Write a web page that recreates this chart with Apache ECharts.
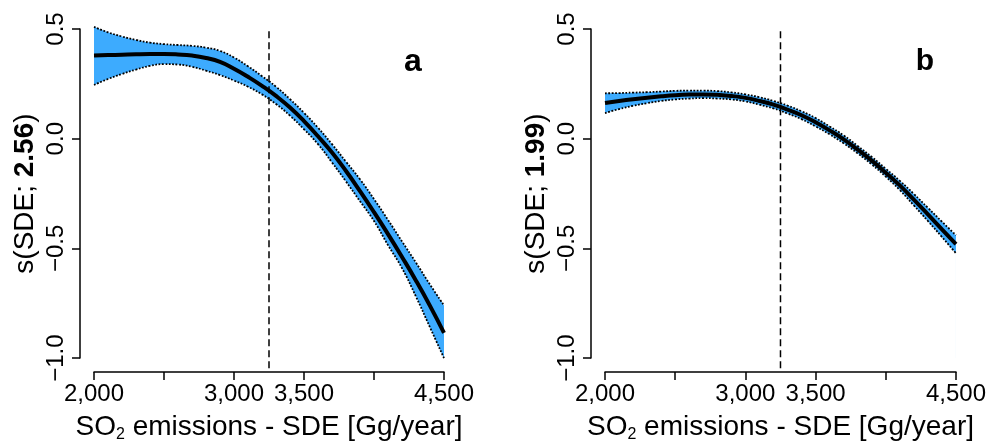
<!DOCTYPE html>
<html>
<head>
<meta charset="utf-8">
<script src="https://cdn.jsdelivr.net/npm/echarts@6/dist/echarts.min.js"></script>
<style>
  html, body { margin: 0; padding: 0; background: #ffffff; }
  #chart { width: 989px; height: 448px; }
</style>
</head>
<body>
<div id="chart"></div>
<script>
// SO2 emissions (Gg/year) at which the smooth terms are evaluated
const emissions = [2000, 2100, 2200, 2300, 2400, 2500, 2600, 2700, 2800, 2900,
                   3000, 3100, 3200, 3300, 3400, 3500, 3600, 3700, 3800, 3900,
                   4000, 4100, 4200, 4300, 4400, 4500];

// Panel a: fitted smooth s(SDE) and its confidence limits
const fitA = [0.379, 0.381, 0.383, 0.385, 0.386, 0.386, 0.384, 0.379, 0.368, 0.350,
              0.319, 0.282, 0.241, 0.195, 0.142, 0.080, 0.011, -0.063, -0.147, -0.239,
              -0.335, -0.435, -0.539, -0.647, -0.762, -0.885];
const upperA = [0.510, 0.485, 0.466, 0.450, 0.438, 0.431, 0.427, 0.423, 0.415, 0.400,
                0.370, 0.330, 0.285, 0.237, 0.180, 0.118, 0.050, -0.025, -0.105, -0.185,
                -0.275, -0.370, -0.468, -0.565, -0.665, -0.760];
const lowerA = [0.245, 0.272, 0.295, 0.315, 0.332, 0.340, 0.338, 0.328, 0.310, 0.290,
                0.265, 0.237, 0.202, 0.158, 0.105, 0.043, -0.025, -0.108, -0.195, -0.285,
                -0.375, -0.485, -0.590, -0.720, -0.860, -1.000];

// Panel b: fitted smooth s(SDE) and its confidence limits
const fitB = [0.163, 0.172, 0.180, 0.187, 0.193, 0.198, 0.201, 0.202, 0.200, 0.195,
              0.186, 0.172, 0.155, 0.133, 0.107, 0.075, 0.038, -0.003, -0.050, -0.100,
              -0.155, -0.213, -0.278, -0.345, -0.413, -0.480];
const upperB = [0.207, 0.208, 0.210, 0.212, 0.215, 0.218, 0.219, 0.219, 0.217, 0.211,
                0.202, 0.189, 0.172, 0.151, 0.125, 0.094, 0.056, 0.015, -0.033, -0.083,
                -0.137, -0.192, -0.252, -0.315, -0.378, -0.440];
const lowerB = [0.117, 0.135, 0.150, 0.162, 0.172, 0.179, 0.183, 0.185, 0.183, 0.179,
                0.170, 0.155, 0.138, 0.115, 0.089, 0.056, 0.020, -0.021, -0.067, -0.117,
                -0.173, -0.234, -0.304, -0.375, -0.448, -0.522];

// Effective degrees of freedom shown in the axis titles
const edfA = '2.56';
const edfB = '1.99';

// Vertical reference line (Gg/year) and its vertical extent
const threshold = 3250;
const thresholdSpan = [0.49, -1.06];

// Tick values that carry a label on the x axis
const xLabelled = [2000, 3000, 3500, 4500];

const BLUE = '#3DABFE';
const FONT = '"Liberation Sans", Arial, Helvetica, sans-serif';

function pairs(ys) {
  return emissions.map((x, i) => [x, ys[i]]);
}

// One panel: the confidence band is painted as a blue area under the upper
// limit, masked with white under the lower limit; then limits, fit, threshold.
function panelSeries(idx, fit, upper, lower) {
  const common = {
    type: 'line', xAxisIndex: idx, yAxisIndex: idx, symbol: 'none',
    smooth: true, clip: false, silent: true, animation: false
  };
  return [
    Object.assign({}, common, {
      data: pairs(upper),
      lineStyle: { opacity: 0 },
      areaStyle: { color: BLUE, opacity: 1, origin: 'start' }
    }),
    Object.assign({}, common, {
      data: pairs(lower),
      lineStyle: { opacity: 0 },
      areaStyle: { color: '#ffffff', opacity: 1, origin: 'start' }
    }),
    Object.assign({}, common, {
      data: pairs(upper),
      lineStyle: { color: '#000', width: 1.8, type: [1.8, 1.6] }
    }),
    Object.assign({}, common, {
      data: pairs(lower),
      lineStyle: { color: '#000', width: 1.8, type: [1.8, 1.6] }
    }),
    Object.assign({}, common, {
      data: pairs(fit),
      lineStyle: { color: '#000', width: 4 }
    }),
    Object.assign({}, common, {
      smooth: false,
      data: thresholdSpan.map(v => [threshold, v]),
      lineStyle: { color: '#000', width: 1.5, type: [7, 4] }
    })
  ];
}

function xAxisFor(idx) {
  return {
    type: 'value', gridIndex: idx, min: 2000, max: 4500, interval: 500,
    offset: 14,
    axisLine: { show: true, onZero: false, lineStyle: { color: '#000', width: 1.5 } },
    axisTick: { show: true, length: 8, lineStyle: { color: '#000', width: 1.5 } },
    splitLine: { show: false },
    axisLabel: {
      show: true, margin: 10, fontSize: 24, color: '#000', fontFamily: FONT,
      showMinLabel: true, showMaxLabel: true, hideOverlap: false,
      formatter: v => xLabelled.indexOf(v) >= 0 ? v.toLocaleString('en-US') : ''
    },
    name: '{t|SO}{s|2}{t| emissions - SDE [Gg/year]}',
    nameLocation: 'middle', nameGap: 35,
    nameTextStyle: {
      color: '#000', fontFamily: FONT,
      rich: {
        t: { fontSize: 28, color: '#000', fontFamily: FONT, lineHeight: 32 },
        s: { fontSize: 16, color: '#000', fontFamily: FONT, lineHeight: 32, padding: [16, 0, 0, 0] }
      }
    }
  };
}

function yAxisFor(idx, edf) {
  return {
    type: 'value', gridIndex: idx, min: -1, max: 0.5, interval: 0.5,
    offset: 14,
    axisLine: { show: true, onZero: false, lineStyle: { color: '#000', width: 1.5 } },
    axisTick: { show: true, length: 8, lineStyle: { color: '#000', width: 1.5 } },
    splitLine: { show: false },
    axisLabel: {
      show: true, rotate: 90, margin: 12, fontSize: 24, color: '#000', fontFamily: FONT,
      showMinLabel: true, showMaxLabel: true, hideOverlap: false,
      formatter: v => (v < 0 ? '\u2212' : '') + Math.abs(v).toFixed(1)
    },
    name: '{t|s(SDE; }{b|' + edf + '}{t|)}',
    nameLocation: 'middle', nameRotate: 90, nameGap: 41,
    nameTextStyle: {
      color: '#000', fontFamily: FONT,
      rich: {
        t: { fontSize: 28, color: '#000', fontFamily: FONT },
        b: { fontSize: 28, color: '#000', fontFamily: FONT, fontWeight: 'bold' }
      }
    }
  };
}

const chart = echarts.init(document.getElementById('chart'), null, { renderer: 'canvas' });

chart.setOption({
  backgroundColor: '#ffffff',
  animation: false,
  grid: [
    { left: 94, width: 350, top: 29, height: 334 },
    { left: 605, width: 351, top: 29, height: 334 }
  ],
  xAxis: [xAxisFor(0), xAxisFor(1)],
  yAxis: [yAxisFor(0, edfA), yAxisFor(1, edfB)],
  graphic: [
    { type: 'text', x: 413, y: 62, style: { text: 'a', font: 'bold 32px ' + FONT, fill: '#000', textAlign: 'center', textVerticalAlign: 'middle' } },
    { type: 'text', x: 925, y: 62, style: { text: 'b', font: 'bold 30px ' + FONT, fill: '#000', textAlign: 'center', textVerticalAlign: 'middle' } }
  ],
  series: [].concat(
    panelSeries(0, fitA, upperA, lowerA),
    panelSeries(1, fitB, upperB, lowerB)
  )
});
</script>
</body>
</html>
